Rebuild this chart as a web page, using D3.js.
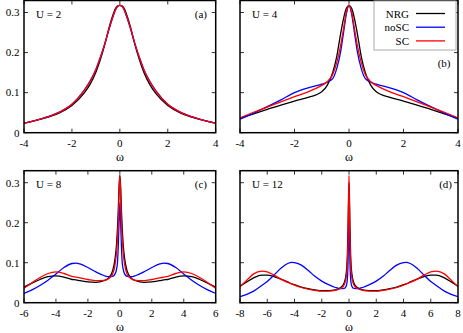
<!DOCTYPE html>
<html>
<head>
<meta charset="utf-8">
<script src="https://cdn.jsdelivr.net/npm/d3@7"></script>
<style>
body { margin: 0; background: #fff; }
svg text { font-family: "Liberation Serif", "Times New Roman", serif; }
</style>
</head>
<body>
<svg id="chart" width="463" height="333"></svg>
<script>
// positive half of each curve (curves are symmetric in omega)
var wA = [0, 0.1, 0.2, 0.3, 0.45, 0.6, 0.8, 1.0, 1.25, 1.5, 2.0, 2.5, 3.0, 3.5, 4.0];
var nrgA  = [0.318, 0.316, 0.308, 0.292, 0.262, 0.226, 0.185, 0.151, 0.120, 0.098, 0.068, 0.050, 0.039, 0.031, 0.024];
var noscA = [0.318, 0.315, 0.304, 0.287, 0.259, 0.228, 0.190, 0.158, 0.128, 0.105, 0.071, 0.052, 0.040, 0.031, 0.024];
var scA   = [0.318, 0.315, 0.305, 0.288, 0.260, 0.228, 0.190, 0.158, 0.127, 0.104, 0.071, 0.052, 0.040, 0.031, 0.024];

var wB = [0, 0.1, 0.2, 0.3, 0.45, 0.6, 0.8, 1.0, 1.5, 2.0, 2.5, 3.0, 3.5, 4.0];
var nrgB  = [0.318, 0.310, 0.285, 0.250, 0.190, 0.150, 0.118, 0.102, 0.088, 0.079, 0.069, 0.058, 0.047, 0.036];
var noscB = [0.318, 0.295, 0.250, 0.205, 0.160, 0.135, 0.126, 0.121, 0.112, 0.100, 0.082, 0.065, 0.049, 0.034];
var scB   = [0.318, 0.300, 0.260, 0.220, 0.175, 0.145, 0.127, 0.118, 0.102, 0.090, 0.077, 0.064, 0.051, 0.037];

var wC = [0, 0.05, 0.1, 0.15, 0.2, 0.3, 0.45, 0.7, 1.0, 1.5, 2.0, 2.5, 2.75, 3.0, 3.5, 4.0, 4.5, 5.0, 5.5, 6.0];
var nrgC  = [0.318, 0.290, 0.230, 0.185, 0.150, 0.110, 0.080, 0.062, 0.055, 0.051, 0.052, 0.055, 0.057, 0.058, 0.064, 0.067, 0.065, 0.058, 0.049, 0.039];
var noscC = [0.250, 0.200, 0.140, 0.100, 0.085, 0.072, 0.066, 0.065, 0.068, 0.077, 0.088, 0.097, 0.099, 0.098, 0.088, 0.072, 0.056, 0.043, 0.032, 0.023];
var scC   = [0.318, 0.270, 0.200, 0.160, 0.130, 0.095, 0.072, 0.060, 0.056, 0.055, 0.058, 0.062, 0.064, 0.066, 0.073, 0.077, 0.073, 0.063, 0.050, 0.036];

var wD = [0, 0.03, 0.07, 0.12, 0.2, 0.35, 0.6, 1.0, 1.5, 2.0, 2.5, 3.0, 3.5, 4.0, 4.2, 4.5, 5.0, 5.5, 6.0, 6.4, 7.0, 7.5, 8.0];
var nrgD  = [0.300, 0.270, 0.190, 0.120, 0.075, 0.050, 0.038, 0.032, 0.030, 0.030, 0.032, 0.035, 0.039, 0.045, 0.047, 0.052, 0.059, 0.065, 0.069, 0.069, 0.062, 0.052, 0.041];
var noscD = [0.220, 0.170, 0.100, 0.060, 0.042, 0.036, 0.035, 0.038, 0.045, 0.054, 0.066, 0.081, 0.094, 0.100, 0.101, 0.098, 0.086, 0.069, 0.053, 0.043, 0.029, 0.021, 0.015];
var scD   = [0.318, 0.250, 0.160, 0.100, 0.065, 0.045, 0.036, 0.031, 0.029, 0.029, 0.031, 0.034, 0.038, 0.044, 0.047, 0.051, 0.059, 0.069, 0.077, 0.079, 0.072, 0.056, 0.040];

var yTicks = [0, 0.1, 0.2, 0.3];
var seriesNames = ["NRG", "noSC", "SC"];
var seriesColors = ["#000000", "#0000ff", "#ff0000"];
var fontFam = "Liberation Serif, Times New Roman, serif";

var panels = [
  {w: wA, ys: [nrgA, noscA, scA], xmax: 4, xt: [-4, -2, 0, 2, 4], label: "(a)", U: "U = 2",
   x0: 24, x1: 215.7, y0: 0.5, y1: 132.7, ylab: true, lx: 207, ly: 18, uy: 18},
  {w: wB, ys: [nrgB, noscB, scB], xmax: 4, xt: [-4, -2, 0, 2, 4], label: "(b)", U: "U = 4",
   x0: 240, x1: 458, y0: 0.5, y1: 132.7, ylab: false, lx: 450.5, ly: 67, uy: 18, legend: true},
  {w: wC, ys: [nrgC, noscC, scC], xmax: 6, xt: [-6, -4, -2, 0, 2, 4, 6], label: "(c)", U: "U = 8",
   x0: 24, x1: 215.7, y0: 170.7, y1: 302.7, ylab: true, lx: 207, ly: 188, uy: 188},
  {w: wD, ys: [nrgD, noscD, scD], xmax: 8, xt: [-8, -6, -4, -2, 0, 2, 4, 6, 8], label: "(d)", U: "U = 12",
   x0: 240, x1: 458, y0: 170.7, y1: 302.7, ylab: false, lx: 452, ly: 188, uy: 188}
];

var svg = d3.select("#chart");

function mirror(w, v) {
  var pts = [];
  for (var i = w.length - 1; i > 0; i--) pts.push([-w[i], v[i]]);
  for (var j = 0; j < w.length; j++) pts.push([w[j], v[j]]);
  return pts;
}

function label(g, x, y, txt, anchor, size) {
  return g.append("text").attr("x", x).attr("y", y)
    .attr("text-anchor", anchor).attr("font-size", size)
    .attr("font-family", fontFam).text(txt);
}

panels.forEach(function(p, k) {
  var x = d3.scaleLinear().domain([-p.xmax, p.xmax]).range([p.x0, p.x1]);
  var y = d3.scaleLinear().domain([0, 0.33]).range([p.y1, p.y0]);
  var g = svg.append("g");

  g.append("clipPath").attr("id", "clip" + k)
    .append("rect").attr("x", p.x0).attr("y", p.y0)
    .attr("width", p.x1 - p.x0).attr("height", p.y1 - p.y0);

  var line = d3.line()
    .x(function(d) { return x(d[0]); })
    .y(function(d) { return y(d[1]); })
    .curve(d3.curveMonotoneX);

  p.ys.forEach(function(v, s) {
    g.append("path")
      .attr("d", line(mirror(p.w, v)))
      .attr("fill", "none")
      .attr("stroke", seriesColors[s])
      .attr("stroke-width", 1.3)
      .attr("clip-path", "url(#clip" + k + ")");
  });

  // ticks on all four sides, pointing inward
  var tl = 4;
  p.xt.forEach(function(t) {
    g.append("line").attr("x1", x(t)).attr("x2", x(t)).attr("y1", p.y1).attr("y2", p.y1 - tl)
      .attr("stroke", "#000").attr("stroke-width", 0.8);
    g.append("line").attr("x1", x(t)).attr("x2", x(t)).attr("y1", p.y0).attr("y2", p.y0 + tl)
      .attr("stroke", "#000").attr("stroke-width", 0.8);
    label(g, x(t), p.y1 + 14.5, t, "middle", 11);
  });
  yTicks.forEach(function(t) {
    g.append("line").attr("x1", p.x0).attr("x2", p.x0 + tl).attr("y1", y(t)).attr("y2", y(t))
      .attr("stroke", "#000").attr("stroke-width", 0.8);
    g.append("line").attr("x1", p.x1).attr("x2", p.x1 - tl).attr("y1", y(t)).attr("y2", y(t))
      .attr("stroke", "#000").attr("stroke-width", 0.8);
    if (p.ylab) label(g, p.x0 - 4.5, y(t) + 3.8, t === 0 ? "0" : t.toFixed(1), "end", 11);
  });

  g.append("rect").attr("x", p.x0).attr("y", p.y0)
    .attr("width", p.x1 - p.x0).attr("height", p.y1 - p.y0)
    .attr("fill", "none").attr("stroke", "#000").attr("stroke-width", 1.5);

  label(g, (p.x0 + p.x1) / 2, p.y1 + 28, "ω", "middle", 12);
  label(g, p.x0 + 12, p.uy, p.U, "start", 11);
  label(g, p.lx, p.ly, p.label, "end", 11);

  if (p.legend) {
    g.append("rect").attr("x", 374).attr("y", 1).attr("width", 82).attr("height", 49)
      .attr("fill", "#fff").attr("stroke", "#aaa").attr("stroke-width", 1);
    seriesNames.forEach(function(name, s) {
      var ly = 13.5 + s * 13.7;
      label(g, 409, ly + 4, name, "end", 11);
      g.append("line").attr("x1", 416).attr("x2", 445).attr("y1", ly).attr("y2", ly)
        .attr("stroke", seriesColors[s]).attr("stroke-width", 1.3);
    });
  }
});
</script>
</body>
</html>
